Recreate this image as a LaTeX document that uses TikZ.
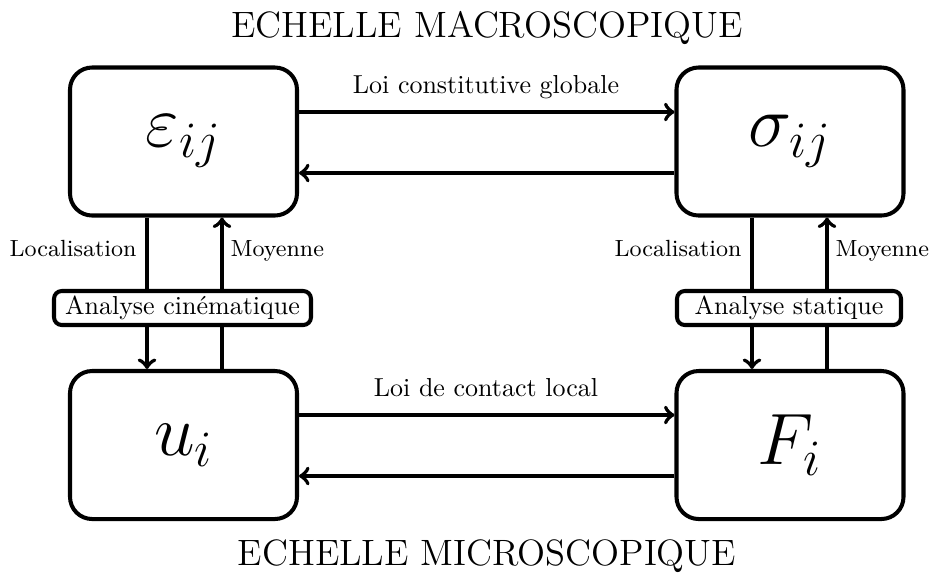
\RequirePackage{fix-cm}
\documentclass[tikz,border=0pt]{standalone}
\usepackage{tikz}
\begin{document}
\begin{tikzpicture}[x=0.013517cm,y=-0.013517cm,
  box/.style={draw,line width=1.55pt,rounded corners=8.5pt,minimum width=227*0.013517cm,minimum height=148*0.013517cm,inner sep=0pt},
  abox/.style={draw,line width=1.55pt,rounded corners=3pt,fill=white,minimum height=34*0.013517cm,inner sep=0pt},
  arr/.style={line width=1.55pt,->},
  lab/.style={font=\small,inner sep=0pt},
  big/.style={font=\fontsize{28}{32}\selectfont},
  title/.style={font=\fontsize{14.1}{16}\selectfont,inner sep=0pt}]
\useasboundingbox (0,0) rectangle (931,573);
\node[box,big] (eps) at (183.5,141.5) {$\varepsilon_{ij}$};
\node[box,big] (sig) at (790,141.5) {$\sigma_{ij}$};
\node[box,big] (u) at (183.5,445) {$u_i$};
\node[box,big] (F) at (790,445) {$F_i$};
% horizontal reference coordinates
\coordinate (ya) at (0,112);
\coordinate (yb) at (0,173);
\coordinate (yc) at (0,415);
\coordinate (yd) at (0,476);
\draw[arr] (eps.east |- ya) -- (sig.west |- ya);
\draw[arr] (sig.west |- yb) -- (eps.east |- yb);
\draw[arr] (u.east |- yc) -- (F.west |- yc);
\draw[arr] (F.west |- yd) -- (u.east |- yd);
\node[inner sep=0pt,anchor=base] (l1) at (486,93) {Loi constitutive globale};
\node[inner sep=0pt,anchor=base] (l2) at (486,396.5) {Loi de contact local};
% vertical reference coordinates
\coordinate (xa) at (147,0);
\coordinate (xb) at (222,0);
\coordinate (xc) at (752,0);
\coordinate (xd) at (827,0);
\draw[arr] (eps.south -| xa) -- (u.north -| xa);
\draw[arr] (u.north -| xb) -- (eps.south -| xb);
\draw[arr] (sig.south -| xc) -- (F.north -| xc);
\draw[arr] (F.north -| xd) -- (sig.south -| xd);
\node[abox,minimum width=257*0.013517cm] (ak) at (182.5,308) {Analyse cinématique};
\node[abox,minimum width=224*0.013517cm] (as) at (789,308) {Analyse statique};
\node[lab,anchor=base east] (loc1) at (137,256) {Localisation};
\node[lab,anchor=base west] (moy1) at (230,256) {Moyenne};
\node[lab,anchor=base east] (loc2) at (742,256) {Localisation};
\node[lab,anchor=base west] (moy2) at (835,256) {Moyenne};
\node[title,anchor=base] (tmac) at (487,37) {ECHELLE MACROSCOPIQUE};
\node[title,anchor=base] (tmic) at (487,565) {ECHELLE MICROSCOPIQUE};
\end{tikzpicture}
\end{document}
